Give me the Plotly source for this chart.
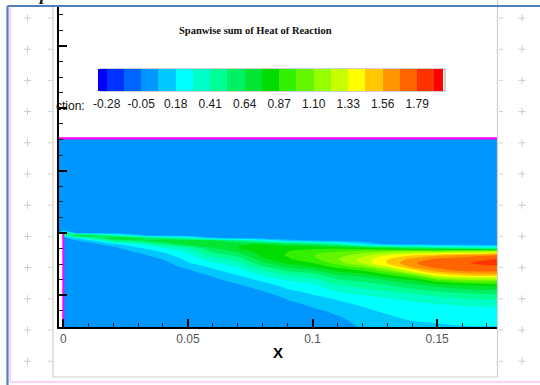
import numpy as np
import plotly.graph_objects as go

# ---------------- data ----------------
x_vals = [-0.002, 0.0, 0.005, 0.01, 0.02, 0.03, 0.04, 0.05, 0.06, 0.07,
          0.08, 0.09, 0.10, 0.11, 0.12, 0.13, 0.14, 0.15, 0.16, 0.175]
# rows from top of the domain downwards
y_vals = [0.038, 0.002, 0.001, 0.0, -0.001, -0.002, -0.003, -0.0045, -0.006,
          -0.0075, -0.009, -0.0105, -0.012, -0.0135, -0.015, -0.017, -0.019,
          -0.021, -0.0235, -0.026, -0.029, -0.032, -0.035, -0.038]

# Heat-of-reaction profiles, one list per x column (same order as y_vals)
col_m002 = [0] * 24
col_0000 = [0, 0, 0, 0.6, 0.25, 0.02, 0, 0, 0, 0, 0, 0, 0, 0, 0, 0, 0, 0, 0, 0, 0, 0, 0, 0]
col_0005 = [0, 0, 0, 0.03, 0.78, 0.2, 0.06, 0, 0, 0, 0, 0, 0, 0, 0, 0, 0, 0, 0, 0, 0, 0, 0, 0]
col_0010 = [0, 0, 0, 0, 0.7, 0.4, 0.12, 0, 0, 0, 0, 0, 0, 0, 0, 0, 0, 0, 0, 0, 0, 0, 0, 0]
col_0020 = [0, 0, 0, 0, 0.45, 0.72, 0.5, 0.14, 0.03, 0, 0, 0, 0, 0, 0, 0, 0, 0, 0, 0, 0, 0, 0, 0]
col_0030 = [0, 0, 0, 0, 0.1, 0.7, 0.6, 0.3, 0.16, 0.085, 0.02, 0, 0, 0, 0, 0, 0, 0, 0, 0, 0, 0, 0, 0]
col_0040 = [0, 0, 0, 0, 0, 0.5, 0.73, 0.5, 0.3, 0.19, 0.13, 0.07, 0.02, 0, 0, 0, 0, 0, 0, 0, 0, 0, 0, 0]
col_0050 = [0, 0, 0, 0, 0, 0.35, 0.7, 0.7, 0.42, 0.32, 0.26, 0.21, 0.17, 0.1, 0.05, 0, 0, 0, 0, 0, 0, 0, 0, 0]
col_0060 = [0, 0, 0, 0, 0, 0.08, 0.66, 0.76, 0.64, 0.55, 0.45, 0.36, 0.28, 0.21, 0.15, 0.08, 0.03, 0, 0, 0, 0, 0, 0, 0]
col_0070 = [0, 0, 0, 0, 0, 0.03, 0.5, 0.74, 0.76, 0.66, 0.56, 0.46, 0.38, 0.31, 0.25, 0.18, 0.11, 0.05, 0, 0, 0, 0, 0, 0]
col_0080 = [0, 0, 0, 0, 0, 0, 0.3, 0.76, 0.81, 0.82, 0.79, 0.72, 0.62, 0.51, 0.4, 0.3, 0.2, 0.13, 0.06, 0, 0, 0, 0, 0]
col_0090 = [0, 0, 0, 0, 0, 0, 0.1, 0.68, 0.82, 0.87, 0.88, 0.85, 0.78, 0.67, 0.55, 0.42, 0.3, 0.22, 0.15, 0.08, 0.02, 0, 0, 0]
col_0100 = [0, 0, 0, 0, 0, 0, 0.05, 0.58, 0.84, 0.93, 0.98, 0.95, 0.87, 0.76, 0.62, 0.47, 0.36, 0.27, 0.21, 0.15, 0.08, 0.03, 0, 0]
col_0110 = [0, 0, 0, 0, 0, 0, 0, 0.45, 0.84, 0.98, 1.05, 1.09, 1.04, 0.92, 0.78, 0.62, 0.5, 0.4, 0.3, 0.2, 0.14, 0.08, 0.04, 0.02]
col_0120 = [0, 0, 0, 0, 0, 0, 0, 0.2, 0.8, 1.05, 1.18, 1.25, 1.24, 1.05, 0.88, 0.68, 0.56, 0.46, 0.35, 0.25, 0.19, 0.14, 0.1, 0.075]
col_0130 = [0, 0, 0, 0, 0, 0, 0, 0.05, 0.7, 1.1, 1.33, 1.44, 1.46, 1.3, 1.05, 0.85, 0.64, 0.52, 0.4, 0.3, 0.23, 0.19, 0.14, 0.1]
col_0140 = [0, 0, 0, 0, 0, 0, 0, 0, 0.6, 1.15, 1.45, 1.6, 1.66, 1.6, 1.4, 1.0, 0.75, 0.6, 0.46, 0.33, 0.26, 0.21, 0.185, 0.13]
col_0150 = [0, 0, 0, 0, 0, 0, 0, 0, 0.5, 1.15, 1.55, 1.7, 1.74, 1.72, 1.62, 1.35, 0.95, 0.68, 0.52, 0.38, 0.28, 0.23, 0.2, 0.15]
col_0160 = [0, 0, 0, 0, 0, 0, 0, 0, 0.45, 1.2, 1.6, 1.75, 1.78, 1.76, 1.7, 1.45, 1.05, 0.75, 0.56, 0.42, 0.3, 0.25, 0.21, 0.17]
col_0175 = [0, 0, 0, 0, 0, 0, 0, 0, 0.35, 1.25, 1.7, 1.8, 1.82, 1.78, 1.72, 1.5, 1.1, 0.8, 0.6, 0.45, 0.31, 0.26, 0.22, 0.17]

columns = [col_m002, col_0000, col_0005, col_0010, col_0020, col_0030, col_0040,
           col_0050, col_0060, col_0070, col_0080, col_0090, col_0100, col_0110,
           col_0120, col_0130, col_0140, col_0150, col_0160, col_0175]

# legend levels
level_start, level_end, level_step = -0.28, 1.905, 0.115
cb_ticks = [-0.28, -0.05, 0.18, 0.41, 0.64, 0.87, 1.10, 1.33, 1.56, 1.79]
band_colors = ["rgb(0,0,255)", "rgb(0,50,255)", "rgb(0,100,255)", "rgb(0,150,255)",
               "rgb(0,200,255)", "rgb(0,255,255)", "rgb(0,255,200)", "rgb(0,255,150)",
               "rgb(0,240,100)", "rgb(0,230,50)", "rgb(0,220,0)", "rgb(50,240,0)",
               "rgb(100,245,0)", "rgb(150,255,0)", "rgb(200,255,0)", "rgb(255,255,0)",
               "rgb(255,200,0)", "rgb(255,150,0)", "rgb(255,100,0)", "rgb(255,50,0)",
               "rgb(255,0,0)"]

# domain boundaries
top_wall_x = [-0.002, 0.176]
top_wall_y = [0.038, 0.038]
inlet_wall_x = [0.0, 0.0]
inlet_wall_y = [0.0, -0.038]
inlet_gap_x = [-0.003, 0.0, 0.0, -0.003]
inlet_gap_y = [0.0, 0.0, -0.04, -0.04]

# ---------------- figure ----------------
W, H = 540, 385
L, R, T, B = 59, 497, 7, 327
PXU = 2492.0          # pixels per data unit
X0PX, Y0PX = 63.3, 233.0
CB_L, CB_R, CB_T, CB_B = 100, 445, 69, 91
CB_SHIFT = 61          # offset observed for horizontal container colorbar


def pxx(p):
    return (p - L) / (R - L)


def pxy(p):
    return (B - p) / (B - T)


z = np.array(columns, dtype=float).T[::-1]
y_asc = y_vals[::-1]

n = len(band_colors) - 1
colorscale = [[i / n, c] for i, c in enumerate(band_colors)]

fig = go.Figure()
fig.add_trace(go.Contour(
    x=x_vals, y=y_asc, z=z,
    zmin=level_start - level_step / 2, zmax=level_end + level_step / 2,
    autocontour=False,
    contours=dict(start=level_start, end=level_end, size=level_step,
                  coloring="fill", showlines=False),
    line=dict(width=0, smoothing=1),
    colorscale=colorscale,
    hoverinfo="skip",
    colorbar=dict(
        orientation="h", xref="container", yref="container",
        x=((CB_L + CB_R) / 2 + CB_SHIFT) / W, xanchor="center",
        y=1 - CB_T / H, yanchor="top",
        len=CB_R - CB_L, lenmode="pixels", thickness=CB_B - CB_T, thicknessmode="pixels",
        xpad=0, ypad=0, outlinewidth=0,
        tickmode="array", tickvals=cb_ticks,
        ticktext=[f"{v:.2f}" for v in cb_ticks],
        ticks="outside", ticklen=3, tickcolor="rgba(0,0,0,0)",
        tickfont=dict(family="Liberation Sans", size=12, color="#1a1a1a"),
    ),
))

fig.add_trace(go.Scatter(x=inlet_gap_x, y=inlet_gap_y, fill="toself",
                         fillcolor="white", line=dict(width=0), mode="lines",
                         hoverinfo="skip", showlegend=False))
fig.add_trace(go.Scatter(x=top_wall_x, y=top_wall_y, mode="lines",
                         line=dict(color="#ff00ff", width=2.2),
                         hoverinfo="skip", showlegend=False))
fig.add_trace(go.Scatter(x=inlet_wall_x, y=inlet_wall_y, mode="lines",
                         line=dict(color="#ff00ff", width=2),
                         hoverinfo="skip", showlegend=False))

xr = [(L - X0PX) / PXU, (R - X0PX) / PXU]
yr = [(Y0PX - B) / PXU, (Y0PX - T) / PXU]

fig.update_xaxes(
    range=xr, showgrid=False, zeroline=False,
    showline=True, linecolor="black", linewidth=2,
    ticks="inside", ticklen=8, tickwidth=2, tickcolor="black",
    tick0=0, dtick=0.05,
    minor=dict(ticks="inside", ticklen=4, tickwidth=1, tickcolor="#222", dtick=0.01),
    tickfont=dict(family="Liberation Sans", size=12, color="#555"),
    title=dict(text="<b>X</b>", font=dict(family="Liberation Sans", size=15, color="black"),
               standoff=2),
)
fig.update_yaxes(
    range=yr, showgrid=False, zeroline=False,
    showline=True, linecolor="black", linewidth=2,
    ticks="inside", ticklen=8, tickwidth=2, tickcolor="black",
    tick0=0, dtick=0.025, showticklabels=False,
    minor=dict(ticks="inside", ticklen=4, tickwidth=1, tickcolor="#222", dtick=0.00625),
)

shapes = []


def line(x0, y0, x1, y1, color, width):
    shapes.append(dict(type="line", xref="paper", yref="paper",
                       x0=pxx(x0), y0=pxy(y0), x1=pxx(x1), y1=pxy(y1),
                       line=dict(color=color, width=width), layer="above"))


# legend bar outline
shapes.append(dict(type="rect", xref="paper", yref="paper",
                   x0=pxx(CB_L), x1=pxx(CB_R), y0=pxy(CB_B), y1=pxy(CB_T),
                   line=dict(color="#a0a0a0", width=1), layer="above"))
# inner picture border (light grey)
line(53, 7, 53, 377, "#cfcfcf", 1.2)
line(497.5, 0, 497.5, 377, "#cfcfcf", 1.2)
line(53, 377, 497.5, 377, "#cfcfcf", 1.2)
# document page markers
for k in range(12):
    yy = 18 + 31.2 * k
    for cx in (27.5, 522):
        line(cx - 3.5, yy, cx + 3.5, yy, "#cccccc", 1)
        line(cx, yy - 3.5, cx, yy + 3.5, "#cccccc", 1)
    line(48, yy, 52, yy, "#d0d0d0", 1)
    line(499, yy, 503, yy, "#d0d0d0", 1)
# pink text frame
line(10, 8, 10, 382, "#f7c4f7", 1.5)
line(10, 382, 540, 382, "#f7c4f7", 1.5)
# blue frame
line(7.5, 6, 7.5, 385, "#4f7fbf", 2.2)
line(7.5, 6, 540, 6, "#4f7fbf", 2.2)

annotations = [
    dict(text="<b>Spanwise sum of Heat of Reaction</b>", xref="paper", yref="paper",
         x=pxx(255), y=pxy(31), xanchor="center", yanchor="middle", showarrow=False,
         font=dict(family="Liberation Serif", size=10.5, color="#111")),
    dict(text="ction:", xref="paper", yref="paper",
         x=pxx(87), y=pxy(106), xanchor="right", yanchor="middle", showarrow=False,
         font=dict(family="Liberation Sans", size=12, color="#111")),
    dict(text="<i><b>p</b></i>", xref="paper", yref="paper",
         x=pxx(43), y=pxy(-6), xanchor="center", yanchor="middle", showarrow=False,
         font=dict(family="Liberation Serif", size=18, color="#111")),
]

fig.update_layout(
    width=W, height=H,
    margin=dict(l=L, r=W - R, t=T, b=H - B, pad=0, autoexpand=False),
    paper_bgcolor="white", plot_bgcolor="white",
    showlegend=False,
    shapes=shapes, annotations=annotations,
)

fig.write_html("out.html")
